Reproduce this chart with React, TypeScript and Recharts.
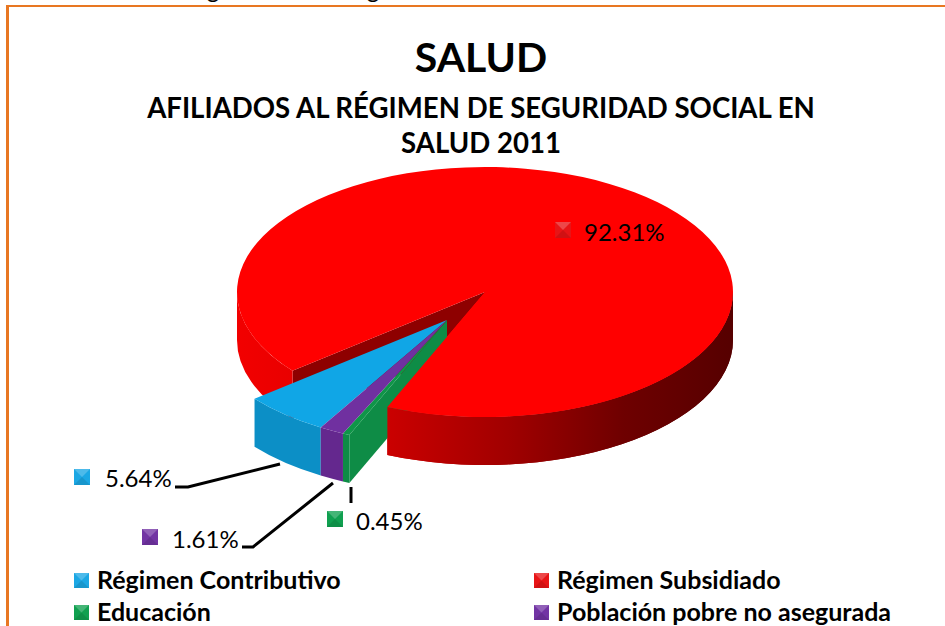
import React from 'react'
import { PieChart, Pie, Legend } from 'recharts'

const CATEGORIES = ['Régimen Contributivo', 'Régimen Subsidiado', 'Educación', 'Población pobre no asegurada']
const VALUES = [5.64, 92.31, 0.45, 1.61]
const TOP_COLORS = ['#10A6E6', '#FF0000', '#0F9648', '#7030A0']
const WALL_COLORS = ['#0C8FC6', '#C00000', '#0E8C46', '#64288E']
const MARKER_COLORS = ['#1BA7E4', '#E81416', '#10A050', '#7234A4']

const pieData = CATEGORIES.map((name, i) => ({ name, value: VALUES[i], fill: TOP_COLORS[i] }))

// 3D look: the sectors are squashed to an ellipse and given a wall
const CX = 485
const CY = 292
const R = 248
const RY = 125
const DEPTH = 48
const EXPLODE = { x: -38, y: 28 }
const START_ANGLE = 239.4
const FONT = 'Lato, Carlito, sans-serif'

const RED = 1
const LABELS = [
  { mx: 74, my: 469, tx: 105, ty: 487, line: [[280, 464], [188, 487], [175, 487]] },
  { mx: 555, my: 222, tx: 584, ty: 241, line: null },
  { mx: 327, my: 511, tx: 356, ty: 530, line: [[351, 487], [351, 503]] },
  { mx: 142, my: 529, tx: 172, ty: 548, line: [[333, 483], [253, 547], [242, 547]] },
]

const rad = (a: number) => (a * Math.PI) / 180
const pt = (a: number, dx = 0, dy = 0) => ({
  x: CX + dx + R * Math.cos(rad(a)),
  y: CY + dy - RY * Math.sin(rad(a)),
})

function topPath(start: number, end: number, dx = 0, dy = 0) {
  const p1 = pt(start, dx, dy)
  const p2 = pt(end, dx, dy)
  const large = start - end > 180 ? 1 : 0
  return `M${CX + dx},${CY + dy} L${p1.x},${p1.y} A${R},${RY} 0 ${large} 1 ${p2.x},${p2.y} Z`
}

function wallPath(start: number, end: number, dx = 0, dy = 0) {
  const p1 = pt(start, dx, dy)
  const p2 = pt(end, dx, dy)
  return `M${p1.x},${p1.y} A${R},${RY} 0 0 1 ${p2.x},${p2.y} L${p2.x},${p2.y + DEPTH} A${R},${RY} 0 0 0 ${p1.x},${p1.y + DEPTH} Z`
}

// parts of an arc that lie on the near (lower) half of the ellipse
function nearParts(start: number, end: number) {
  const parts: [number, number][] = []
  for (const [hi, lo] of [[360, 180], [0, -180]]) {
    const s = Math.min(start, hi)
    const e = Math.max(end, lo)
    if (s > e) parts.push([s, e])
  }
  return parts
}

function cutFace(angle: number, dx = 0, dy = 0) {
  const p = pt(angle, dx, dy)
  const ax = CX + dx
  const ay = CY + dy
  return `M${ax},${ay} L${p.x},${p.y} L${p.x},${p.y + DEPTH} L${ax},${ay + DEPTH} Z`
}

const redWallGradient = (id: string) => (
  <defs>
    <linearGradient id={id} gradientUnits="userSpaceOnUse" x1={CX - R} y1="0" x2={CX + R} y2="0">
      <stop offset="0%" stopColor="#F20000" />
      <stop offset="15%" stopColor="#E60000" />
      <stop offset="32%" stopColor="#C80000" />
      <stop offset="55%" stopColor="#A00000" />
      <stop offset="78%" stopColor="#6E0000" />
      <stop offset="100%" stopColor="#560000" />
    </linearGradient>
  </defs>
)

// red slice, whole, lies behind the exploded group
function BackShape(props: any) {
  const { startAngle, endAngle, name } = props
  if (name !== CATEGORIES[RED]) return <g />
  return (
    <g>
      {redWallGradient('redWallBack')}
      <path d={cutFace(startAngle)} fill="#8E0000" />
      {nearParts(startAngle, endAngle).map(([s, e]) => (
        <path key={s} d={wallPath(s, e)} fill="url(#redWallBack)" />
      ))}
      <path d={topPath(startAngle, endAngle)} fill={TOP_COLORS[RED]} />
    </g>
  )
}

function SliceShape(props: any) {
  const { startAngle, endAngle, name } = props
  if (name === CATEGORIES[RED]) return <g />
  const { x, y } = EXPLODE
  const i = CATEGORIES.indexOf(name)
  return (
    <g>
      {i === 2 && <path d={cutFace(startAngle, x, y)} fill={WALL_COLORS[2]} />}
      <path d={wallPath(startAngle, endAngle, x, y)} fill={WALL_COLORS[i]} />
      <path d={topPath(startAngle, endAngle, x, y)} fill={TOP_COLORS[i]} />
    </g>
  )
}

// right part of the red slice again, it hides the far end of the green wall
function FrontShape(props: any) {
  const { endAngle, name } = props
  if (name !== CATEGORIES[RED]) return <g />
  return (
    <g>
      {redWallGradient('redWallFront')}
      <path d={wallPath(0, endAngle)} fill="url(#redWallFront)" />
      <path d={topPath(endAngle + 110, endAngle)} fill={TOP_COLORS[RED]} />
    </g>
  )
}

// small bevelled square, like the Excel 3D legend keys
function Marker({ x, y, color, size = 16 }: any) {
  const m = size / 2
  return (
    <g>
      <rect x={x} y={y} width={size} height={size} fill={color} />
      <polygon points={`${x},${y} ${x + size},${y} ${x + m},${y + m}`} fill="#fff" fillOpacity={0.22} />
      <polygon points={`${x},${y + size} ${x + size},${y + size} ${x + m},${y + m}`} fill="#000" fillOpacity={0.1} />
    </g>
  )
}

function renderLabel(props: any) {
  const { index, value } = props
  const l = LABELS[index]
  const points = l.line ? l.line.map((p) => p.join(',')).join(' ') : ''
  return (
    <g key={index}>
      <Marker x={l.mx} y={l.my} color={MARKER_COLORS[index]} />
      <text x={l.tx} y={l.ty} fontFamily={FONT} fontSize={24} fill="#000">{`${value.toFixed(2)}%`}</text>
      {l.line && <polyline points={points} fill="none" stroke="#000" strokeWidth={3} />}
    </g>
  )
}

function LegendContent() {
  const cols = [97, 557]
  const rows = [589, 621]
  return (
    <svg width={945} height={626} style={{ position: 'absolute', left: 0, top: 0 }}>
      {CATEGORIES.map((name, i) => {
        const tx = cols[i % 2]
        const ty = rows[Math.floor(i / 2)]
        return (
          <g key={name}>
            <Marker x={tx - 23} y={ty - 16} size={15} color={MARKER_COLORS[i]} />
            <text x={tx} y={ty} fontFamily={FONT} fontSize={25} fontWeight={700} fill="#000">{name}</text>
          </g>
        )
      })}
    </svg>
  )
}

export default function App() {
  return (
    <div style={{ position: 'absolute', left: 0, top: 0, width: 945, height: 626, background: '#fff', overflow: 'hidden' }}>
      {/* orange frame of the slide */}
      <div style={{ position: 'absolute', left: 6, top: 5, width: 939, height: 2, background: '#E87722' }} />
      <div style={{ position: 'absolute', left: 6, top: 5, width: 3, height: 621, background: '#E87722' }} />
      <PieChart width={945} height={626} margin={{ top: 0, right: 0, bottom: 0, left: 0 }}>
        {/* tail ends of the cut-off line of text above the frame */}
        <text x={213} y={-2} textAnchor="middle" fontFamily={FONT} fontSize={24}>g</text>
        <text x={373} y={-2} textAnchor="middle" fontFamily={FONT} fontSize={24}>g</text>
        <text x={481} y={72} textAnchor="middle" fontFamily={FONT} fontSize={41} fontWeight={700}>SALUD</text>
        <text x={481} y={118} textAnchor="middle" fontFamily={FONT} fontSize={27.6} fontWeight={700}>AFILIADOS AL RÉGIMEN DE SEGURIDAD SOCIAL EN</text>
        <text x={481} y={153} textAnchor="middle" fontFamily={FONT} fontSize={27.6} fontWeight={700}>SALUD 2011</text>
        <Pie data={pieData} dataKey="value" nameKey="name" cx={CX} cy={CY} outerRadius={R} startAngle={START_ANGLE} endAngle={START_ANGLE - 360} paddingAngle={0} stroke="none" isAnimationActive={false} shape={BackShape} legendType="none" />
        <Pie data={pieData} dataKey="value" nameKey="name" cx={CX} cy={CY} outerRadius={R} startAngle={START_ANGLE} endAngle={START_ANGLE - 360} paddingAngle={0} stroke="none" isAnimationActive={false} shape={SliceShape} legendType="none" />
        <Pie data={pieData} dataKey="value" nameKey="name" cx={CX} cy={CY} outerRadius={R} startAngle={START_ANGLE} endAngle={START_ANGLE - 360} paddingAngle={0} stroke="none" isAnimationActive={false} shape={FrontShape} legendType="none" label={renderLabel} labelLine={false} />
        <Legend content={LegendContent} wrapperStyle={{ position: 'absolute', left: 0, top: 0, width: 945, height: 626, margin: 0, pointerEvents: 'none' }} />
      </PieChart>
    </div>
  )
}
